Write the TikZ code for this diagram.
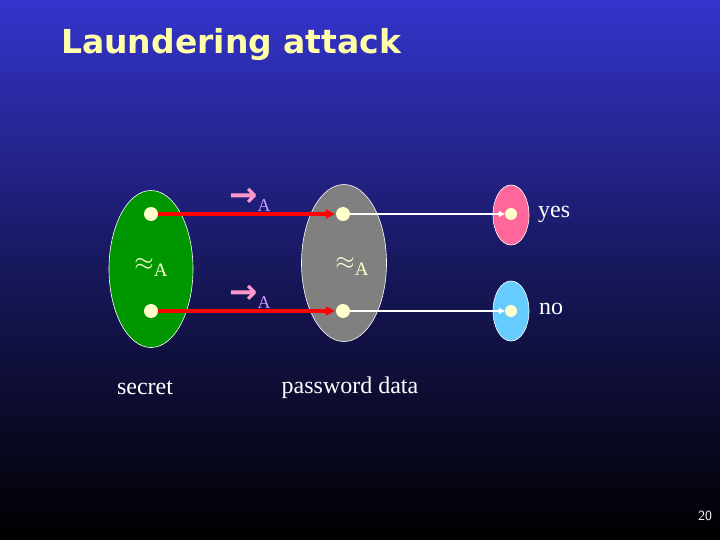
\documentclass[tikz,border=0pt]{standalone}
\usepackage{fontspec}
\setmainfont{Liberation Serif}
\newfontfamily\titlefont{DejaVu Sans}
\newfontfamily\symfont{DejaVu Sans}
\usetikzlibrary{arrows.meta, shapes.geometric}

\definecolor{slidetop}{RGB}{52,52,204}
\definecolor{slidebot}{RGB}{0,0,0}
\definecolor{titlecol}{RGB}{255,255,170}
\definecolor{dotcol}{RGB}{255,255,204}
\definecolor{setgreen}{RGB}{0,150,0}
\definecolor{setgray}{RGB}{128,128,128}
\definecolor{setpink}{RGB}{255,102,153}
\definecolor{setblue}{RGB}{102,204,255}
\definecolor{arrowpink}{RGB}{255,153,204}
\definecolor{sublilac}{RGB}{204,153,255}

\begin{document}
\begin{tikzpicture}[
        x=1pt, y=-1pt,
        font=\fontsize{24}{28}\selectfont,
        set/.style={ellipse, draw=white, line width=0.6pt, inner sep=0pt},
        pt/.style={circle, fill=dotcol, inner sep=0pt, minimum size=14pt},
        redmap/.style={-{Triangle[length=9pt, width=9pt]}, red, line width=4pt, shorten >=1pt},
        whitemap/.style={-{Triangle[length=6pt, width=6pt]}, white, line width=1.2pt},
        lbl/.style={text=white, inner sep=0pt}
    ]
        % background
        \shade[top color=slidetop, bottom color=slidebot, middle color=slidetop!45!black, shading angle=0] (0,0) rectangle (720,540);
        \useasboundingbox (0,0) rectangle (720,540);

        \node[anchor=west, text=titlecol, inner sep=0pt] (title) at (61,45) {\titlefont\bfseries\fontsize{33}{36}\selectfont Laundering attack};

        % sets
        \node[set, fill=setgreen, minimum width=84pt, minimum height=157pt] (secret) at (151,269) {};
        \node[set, fill=setgray, minimum width=85pt, minimum height=157pt] (pwd) at (344,263) {};
        \node[set, fill=setpink, minimum width=36pt, minimum height=60pt] (yesset) at (511,215) {};
        \node[set, fill=setblue, minimum width=36pt, minimum height=60pt] (noset) at (511,311) {};

        % points
        \node[pt] (s1) at (151,214) {};
        \node[pt] (s2) at (151,311) {};
        \node[pt] (p1) at (343,214) {};
        \node[pt] (p2) at (343,311) {};
        \node[pt, minimum size=12pt] (y1) at (511,214) {};
        \node[pt, minimum size=12pt] (n1) at (511,311) {};

        \draw[redmap] (s1.east) -- (p1.west);
        \draw[redmap] (s2.east) -- (p2.west);
        \draw[whitemap] (p1.east) -- (y1.west);
        \draw[whitemap] (p2.east) -- (n1.west);

        % labels
        \node[inner sep=0pt] (arrA1) at (250,200) {\textcolor{arrowpink}{\symfont\bfseries\fontsize{34}{34}\selectfont →}\textcolor{sublilac}{\raisebox{-5pt}{\fontsize{18}{18}\selectfont A}}};
        \node[inner sep=0pt] (arrA2) at (250,297) {\textcolor{arrowpink}{\symfont\bfseries\fontsize{34}{34}\selectfont →}\textcolor{sublilac}{\raisebox{-5pt}{\fontsize{18}{18}\selectfont A}}};
        \node[text=dotcol, inner sep=0pt] (eqA1) at (151,267) {\fontsize{24}{24}\selectfont$\approx$\raisebox{-6pt}{\fontsize{19}{19}\selectfont A}};
        \node[text=dotcol, inner sep=0pt] (eqA2) at (352,266) {\fontsize{24}{24}\selectfont$\approx$\raisebox{-6pt}{\fontsize{19}{19}\selectfont A}};

        \node[lbl, anchor=west] (yes) at (538,214) {yes};
        \node[lbl, anchor=west] (no) at (539,309) {no};
        \node[lbl] (secretlbl) at (145,388) {secret};
        \node[lbl] (pwdlbl) at (350,388) {password data};

        \node[lbl, font=\sffamily\fontsize{14}{14}\selectfont] (pageno) at (705,516) {20};
    \end{tikzpicture}
\end{document}
